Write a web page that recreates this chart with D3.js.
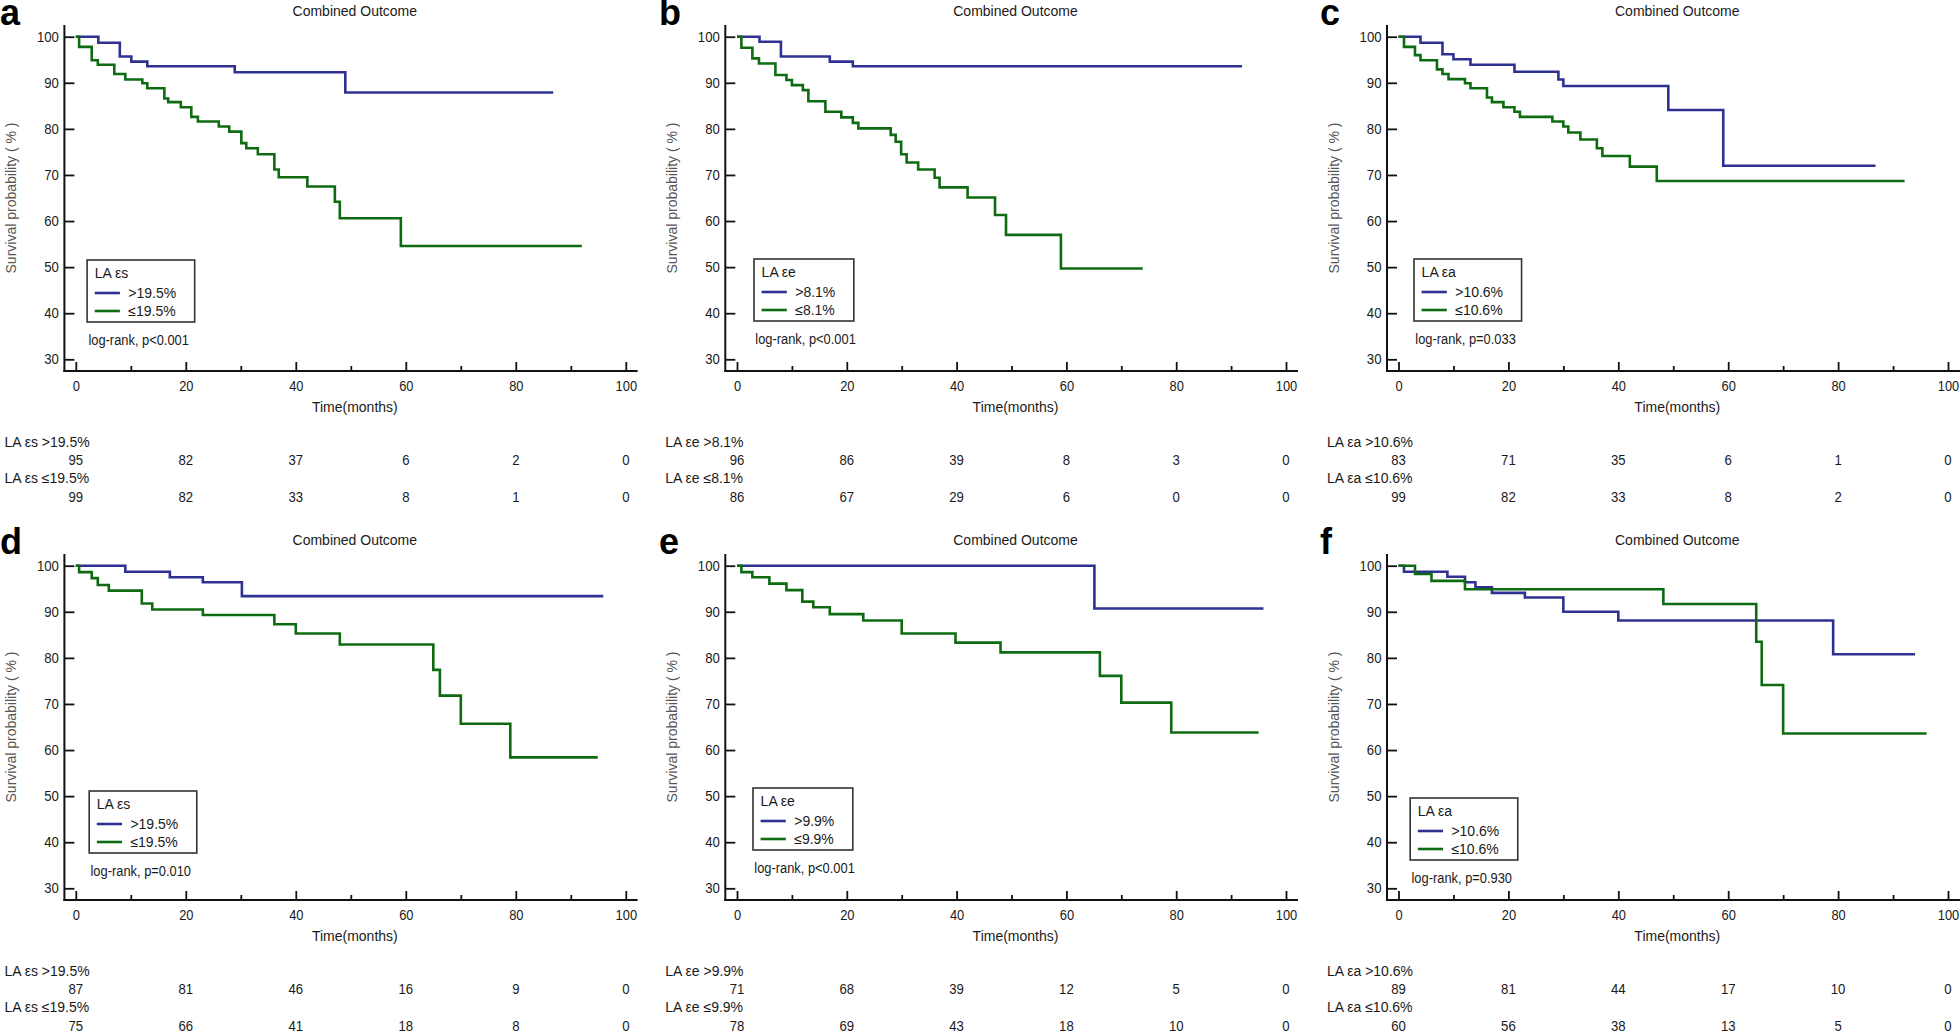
<!DOCTYPE html>
<html><head><meta charset="utf-8">
<script src="https://cdn.jsdelivr.net/npm/d3@7"></script>
<style>body{margin:0;background:#fff}svg{display:block}</style>
</head><body>
<svg id="c" width="1960" height="1032"></svg>
<script>
// ---------------- DATA ----------------
const timeTicks = [0, 20, 40, 60, 80, 100];
const minorTicks = [10, 30, 50, 70, 90];
const survTicks = [30, 40, 50, 60, 70, 80, 90, 100];
const panelLetters = ['a', 'b', 'c', 'd', 'e', 'f'];
const chartTitle = 'Combined Outcome';
const xTitle = 'Time(months)';
const yTitle = 'Survival probability ( % )';
const legendTitles = ['LA εs', 'LA εe', 'LA εa', 'LA εs', 'LA εe', 'LA εa'];
const highLabels = ['>19.5%', '>8.1%', '>10.6%', '>19.5%', '>9.9%', '>10.6%'];
const lowLabels = ['≤19.5%', '≤8.1%', '≤10.6%', '≤19.5%', '≤9.9%', '≤10.6%'];
const pLabels = ['log-rank, p<0.001', 'log-rank, p<0.001', 'log-rank, p=0.033',
                 'log-rank, p=0.010', 'log-rank, p<0.001', 'log-rank, p=0.930'];

// Kaplan-Meier steps: [time (months), survival (%)]
const kmA_high = [[0,100],[4.1,98.7],[8.0,95.7],[10.1,94.6],[13.0,93.6],[28.9,92.3],[49.0,87.9],[86.8,87.9]];
const kmA_low = [[0,100],[0.6,97.8],[2.9,94.9],[4.0,93.9],[7.0,91.9],[9.0,90.7],[12.1,89.9],[13.0,88.8],[16.1,86.6],[16.8,85.8],[19.1,84.7],[21.0,82.6],[22.2,81.6],[26.0,80.5],[27.9,79.4],[30.1,76.9],[31.0,75.8],[33.1,74.5],[36.1,71.2],[36.9,69.5],[42.1,67.5],[47.1,64.2],[48.0,60.6],[59.1,54.6],[92.0,54.6]];
const kmB_high = [[0,100],[4.1,98.9],[8.0,95.7],[16.9,94.6],[21.1,93.6],[92.0,93.6]];
const kmB_low = [[0,100],[0.8,97.6],[2.8,95.3],[4.0,94.2],[7.0,91.7],[9.0,90.6],[10.0,89.5],[12.0,88.4],[13.0,86.0],[16.1,83.7],[19.0,82.5],[21.1,81.3],[22.1,80.1],[28.0,78.7],[28.9,77.2],[29.9,74.5],[30.9,72.7],[33.0,71.2],[36.0,69.4],[36.9,67.3],[42.0,65.1],[47.0,61.3],[49.0,57.0],[59.0,49.7],[73.9,49.7]];
const kmC_high = [[0,100],[4.0,98.7],[8.0,96.2],[10.0,95.1],[13.1,93.9],[21.1,92.4],[29.1,90.7],[30.0,89.3],[49.1,84.1],[59.1,72.0],[86.8,72.0]];
const kmC_low = [[0,100],[1.0,97.8],[3.0,96.0],[4.0,94.9],[7.0,92.9],[8.0,91.9],[9.1,90.8],[12.1,89.9],[13.1,88.8],[16.1,86.8],[17.0,85.8],[19.1,84.7],[21.1,83.7],[22.1,82.6],[28.0,81.6],[30.0,80.5],[30.9,79.2],[33.1,77.7],[36.1,75.8],[37.1,74.1],[42.1,71.8],[47.0,68.7],[92.1,68.7]];
const kmD_high = [[0,100],[9.0,98.7],[17.1,97.5],[23.1,96.4],[30.2,93.4],[95.9,93.4]];
const kmD_low = [[0,100],[0.6,98.6],[2.9,97.3],[4.0,95.8],[6.0,94.6],[12.0,91.8],[13.9,90.5],[23.1,89.3],[36.1,87.3],[40.0,85.3],[48.0,82.9],[65.0,77.4],[66.2,71.8],[70.0,65.7],[79.0,58.4],[94.9,58.4]];
const kmE_high = [[0,100],[65.1,90.7],[95.9,90.7]];
const kmE_low = [[0,100],[0.8,98.6],[2.8,97.5],[5.9,96.1],[9.0,94.7],[11.9,92.2],[13.9,91.0],[16.9,89.5],[23.0,88.1],[30.0,85.3],[39.8,83.3],[48.0,81.2],[66.1,76.1],[70.0,70.3],[79.1,63.8],[95.0,63.8]];
const kmF_high = [[0,100],[1.0,98.7],[8.9,97.6],[12.1,96.4],[14.0,95.3],[17.0,94.1],[23.0,93.1],[30.0,90.0],[40.0,88.1],[79.1,80.8],[94.0,80.8]];
const kmF_low = [[0,100],[3.0,98.2],[6.0,96.7],[12.1,94.9],[48.2,91.7],[65.1,83.5],[66.1,74.1],[70.0,63.6],[96.1,63.6]];

// Numbers at risk at timeTicks
const riskA_high = [95, 82, 37, 6, 2, 0];
const riskA_low  = [99, 82, 33, 8, 1, 0];
const riskB_high = [96, 86, 39, 8, 3, 0];
const riskB_low  = [86, 67, 29, 6, 0, 0];
const riskC_high = [83, 71, 35, 6, 1, 0];
const riskC_low  = [99, 82, 33, 8, 2, 0];
const riskD_high = [87, 81, 46, 16, 9, 0];
const riskD_low  = [75, 66, 41, 18, 8, 0];
const riskE_high = [71, 68, 39, 12, 5, 0];
const riskE_low  = [78, 69, 43, 18, 10, 0];
const riskF_high = [89, 81, 44, 17, 10, 0];
const riskF_low  = [60, 56, 38, 13, 5, 0];

// ---------------- LAYOUT / STYLE ----------------
const FONT = "'Liberation Sans', Arial, sans-serif";
const BLUE = '#2e3192', GREEN = '#0f6b12';
const cols = [
  {axisX: 64.4,  x0: 75.8,   x100: 625.8, axisEnd: 637.6, letterX: 0},
  {axisX: 725.3, x0: 737,    x100: 1286,  axisEnd: 1298,  letterX: 659},
  {axisX: 1387,  x0: 1398.5, x100: 1948,  axisEnd: 1962,  letterX: 1320}
];
const rowOff = [0, 529];
const Y100 = 36.7, Y30 = 359.3, XAXIS_Y = 371, YTOP = 25;
const legendPos = [[11.3,260],[17,259],[15.5,259],[13.4,262],[16,259],[11.7,269]];

const panels = [
  {km: [kmA_high, kmA_low], risk: [riskA_high, riskA_low]},
  {km: [kmB_high, kmB_low], risk: [riskB_high, riskB_low]},
  {km: [kmC_high, kmC_low], risk: [riskC_high, riskC_low]},
  {km: [kmD_high, kmD_low], risk: [riskD_high, riskD_low]},
  {km: [kmE_high, kmE_low], risk: [riskE_high, riskE_low]},
  {km: [kmF_high, kmF_low], risk: [riskF_high, riskF_low]}
];

const svg = d3.select('#c');

function label(g, x, y, s, o = {}) {
  return g.append('text')
    .attr('transform', `translate(${x},${y}) scale(${o.sx ?? 1},1)`)
    .attr('text-anchor', o.anchor || 'start')
    .attr('dy', '0.35em')
    .style('font-family', FONT)
    .style('font-size', (o.size || 14) + 'px')
    .style('fill', o.fill || '#1a1a1a')
    .style('font-weight', o.weight || 'normal')
    .text(s);
}

panels.forEach((p, i) => {
  const c = cols[i % 3];
  const off = rowOff[Math.floor(i / 3)];
  const g = svg.append('g').attr('transform', `translate(0,${off})`);
  const x = d3.scaleLinear().domain([0, 100]).range([c.x0, c.x100]);
  const y = d3.scaleLinear().domain([30, 100]).range([Y30, Y100]);

  // panel letter
  g.append('text').attr('x', c.letterX).attr('y', 25)
    .style('font-family', FONT).style('font-size', '36px').style('font-weight', 'bold')
    .style('fill', '#000').text(panelLetters[i]);

  // title
  label(g, (c.x0 + c.x100) / 2 + 4, XAXIS_Y - 360, chartTitle, {anchor: 'middle'});

  // y-axis title
  g.append('text')
    .attr('transform', `translate(${c.axisX - 53},${y(65)}) rotate(-90)`)
    .attr('text-anchor', 'middle').attr('dy', '0.35em')
    .style('font-family', FONT).style('font-size', '14px').style('fill', '#555')
    .text(yTitle);

  // axis lines
  g.append('line').attr('x1', c.axisX).attr('x2', c.axisX).attr('y1', YTOP).attr('y2', XAXIS_Y + 1)
    .attr('stroke', '#111').attr('stroke-width', 2);
  g.append('line').attr('x1', c.axisX - 1).attr('x2', c.axisEnd).attr('y1', XAXIS_Y).attr('y2', XAXIS_Y)
    .attr('stroke', '#111').attr('stroke-width', 2);

  // y axis ticks
  const ya = g.append('g').attr('transform', `translate(${c.axisX},0)`)
    .call(d3.axisLeft(y).tickValues(survTicks).tickSizeInner(-10).tickSizeOuter(0).tickPadding(0));
  ya.select('.domain').remove();
  ya.selectAll('line').attr('stroke', '#111').attr('stroke-width', 1.8);
  ya.selectAll('text').attr('x', -5.5 / 0.94).attr('transform', 'scale(0.94,1)')
    .style('font-family', FONT).style('font-size', '14px').style('fill', '#1a1a1a');

  // x axis ticks (major + minor)
  const xa = g.append('g').attr('transform', `translate(0,${XAXIS_Y})`)
    .call(d3.axisBottom(x).tickValues(timeTicks).tickSizeInner(-9).tickSizeOuter(0).tickPadding(10));
  xa.select('.domain').remove();
  xa.selectAll('line').attr('stroke', '#111').attr('stroke-width', 1.8);
  xa.selectAll('text').attr('transform', 'scale(0.92,1)')
    .style('font-family', FONT).style('font-size', '14px').style('fill', '#1a1a1a');
  const xm = g.append('g').attr('transform', `translate(0,${XAXIS_Y})`)
    .call(d3.axisBottom(x).tickValues(minorTicks).tickSizeInner(-5).tickSizeOuter(0).tickFormat(''));
  xm.select('.domain').remove();
  xm.selectAll('line').attr('stroke', '#111').attr('stroke-width', 1.8);

  // x title
  label(g, (c.x0 + c.x100) / 2 + 4, XAXIS_Y + 36, xTitle, {anchor: 'middle'});

  // KM curves
  const line = d3.line().x(d => x(d[0])).y(d => y(d[1])).curve(d3.curveStepAfter);
  [BLUE, GREEN].forEach((col, k) => {
    g.append('path').datum(p.km[k]).attr('d', line)
      .attr('fill', 'none').attr('stroke', col).attr('stroke-width', 2.6);
  });

  // legend
  const lx = c.x0 + legendPos[i][0], ly = legendPos[i][1];
  const lg = g.append('g');
  const rect = lg.append('rect').attr('x', lx).attr('y', ly).attr('height', 62)
    .attr('fill', '#fff').attr('stroke', '#333').attr('stroke-width', 1.6);
  label(lg, lx + 7.6, ly + 13.5, legendTitles[i]);
  let maxW = 0;
  [[highLabels[i], BLUE, 33], [lowLabels[i], GREEN, 51]].forEach(([txt, col, dy]) => {
    lg.append('line').attr('x1', lx + 7.6).attr('x2', lx + 32.8).attr('y1', ly + dy).attr('y2', ly + dy)
      .attr('stroke', col).attr('stroke-width', 2.6);
    const t = label(lg, lx + 41.2, ly + dy, txt);
    maxW = Math.max(maxW, t.node().getComputedTextLength());
  });
  rect.attr('width', 41.2 + maxW + 18.5);

  // log-rank
  label(g, lx + 1.3, ly + 80, pLabels[i], {sx: 0.92});

  // numbers at risk
  const rl = c.axisX - 60;
  label(g, rl, XAXIS_Y + 71, legendTitles[i] + ' ' + highLabels[i]);
  label(g, rl, XAXIS_Y + 107, legendTitles[i] + ' ' + lowLabels[i]);
  timeTicks.forEach((t, j) => {
    label(g, x(t), XAXIS_Y + 89, p.risk[0][j], {anchor: 'middle', sx: 0.94});
    label(g, x(t), XAXIS_Y + 126, p.risk[1][j], {anchor: 'middle', sx: 0.94});
  });
});
</script>
</body></html>
